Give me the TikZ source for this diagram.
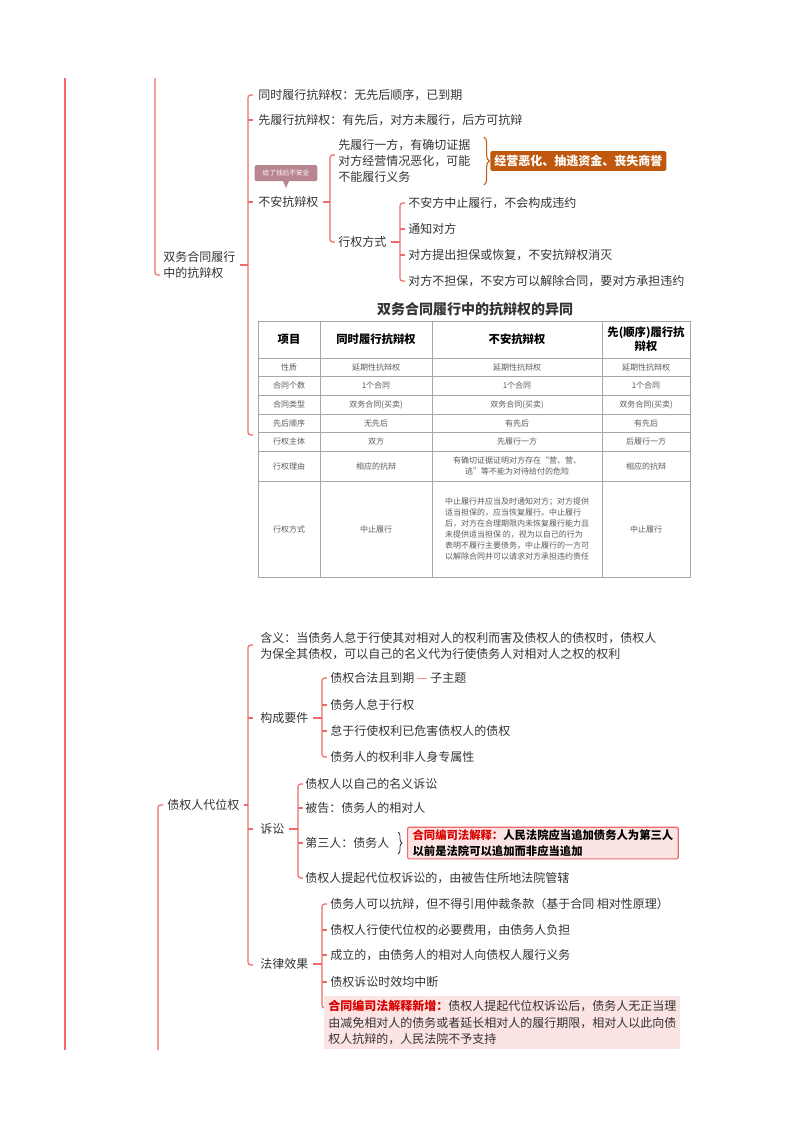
\documentclass[tikz,border=0pt]{standalone}
\usepackage{fontspec}
\setmainfont{Noto Sans CJK SC}
\usetikzlibrary{shapes,calc,positioning,decorations.pathreplacing}
\definecolor{lred}{HTML}{F06A6A}
\definecolor{txt}{HTML}{333333}
\definecolor{ora}{HTML}{C0590F}
\definecolor{pinkbg}{HTML}{FCE4E4}
\definecolor{callout}{HTML}{B98591}
\tikzstyle{item} = [anchor=west, inner sep=0pt, text=txt, font=\fontsize{9}{12}\selectfont, align=left]
\tikzstyle{br} = [draw=lred, line width=0.9pt, rounded corners=2pt]
\tikzstyle{cell} = [text=txt!80, font=\fontsize{6}{8.2}\selectfont, align=center, inner sep=0pt]
\tikzstyle{head} = [text=black, font=\bfseries\fontsize{8.5}{10.5}\selectfont, align=center, inner sep=0pt]
\newcommand{\brk}[3]{\draw[br] (#1+5,#2) -- (#1,#2) -- (#1,#3) -- (#1+5,#3);}
\newcommand{\tick}[2]{\draw[br] (#1,#2) -- (#1+5,#2);}

\begin{document}
\begin{tikzpicture}[x=0.75pt, y=-0.75pt]
        \useasboundingbox (0,0) rectangle (800,1132);
        % main spines
        \draw[lred, line width=1.2pt] (65,78) -- (65,1050);
        \draw[br] (155,78) -- (155,275) -- (160,275);
        \draw[br] (163,805) -- (158,805) -- (158,1050);
        % part one
        \node[item] (sw) at (163,265) {双务合同履行\\中的抗辩权};
        \brk{248}{95}{435}
        \draw[br] ([xshift=3pt]sw.east) -- (248,265);
        \node[item] (tong) at (258,95) {同时履行抗辩权：无先后顺序，已到期};
        \node[item] (xian) at (258,120) {先履行抗辩权：有先后，对方未履行，后方可抗辩};
        \node[item] (buan) at (258,202) {不安抗辩权};
        \tick{248}{120} \tick{248}{202}
        \node[fill=callout, text=white, rounded corners=1pt, font=\fontsize{5}{6}\selectfont, minimum width=47pt, minimum height=12pt, inner sep=1pt] (tip) at (286,173) {给了钱后不安全};
        \fill[callout] (283,181) -- (289,181) -- (286,188) -- cycle;
        \brk{330}{155}{242}
        \draw[br] ([xshift=3pt]buan.east) -- (330,202);
        \node[item] (zheng) at (338,161) {先履行一方，有确切证据\\对方经营情况恶化，可能\\不能履行义务};
        \node[item] (fang) at (338,242) {行权方式};
        \draw[decorate, decoration={brace, amplitude=4pt}, draw=ora, line width=0.8pt] (484,137) -- (484,185);
        \node[fill=ora, text=white, font=\bfseries\fontsize{9}{11}\selectfont, rounded corners=1pt, inner sep=3pt, anchor=west] (jy) at (490,161) {经营恶化、抽逃资金、丧失商誉};
        \brk{400}{203}{281}
        \draw[br] ([xshift=3pt]fang.east) -- (400,242);
        \node[item] (f1) at (408,203) {不安方中止履行，不会构成违约};
        \node[item] (f2) at (408,229) {通知对方};
        \node[item] (f3) at (408,255) {对方提出担保或恢复，不安抗辩权消灭};
        \node[item] (f4) at (408,281) {对方不担保，不安方可以解除合同，要对方承担违约};
        \tick{400}{229} \tick{400}{255}
        % table
        \node[font=\bfseries\fontsize{10.5}{12}\selectfont, text=txt] (ttl) at (475,309) {双务合同履行中的抗辩权的异同};
        \fill[white] (256,320) rectangle (692,578);
        \draw[gray!70, line width=0.5pt] (258,321) rectangle (690,577);
        \foreach \x in {320,432,602} \draw[gray!70, line width=0.5pt] (\x,321) -- (\x,577);
        \foreach \y in {358,376,395,414,432,451,481} \draw[gray!70, line width=0.5pt] (258,\y) -- (690,\y);
        \node[head] at (289,339) {项目};
        \node[head] at (376,339) {同时履行抗辩权};
        \node[head] at (517,339) {不安抗辩权};
        \node[head] at (646,339) {先(顺序)履行抗\\辩权};
        \foreach \r/\y/\a/\b/\c/\d in {0/367/性质/延期性抗辩权/延期性抗辩权/延期性抗辩权,
            1/385.5/合同个数/1个合同/1个合同/1个合同,
            2/404.5/合同类型/双务合同(买卖)/双务合同(买卖)/双务合同(买卖),
            3/423/先后顺序/无先后/有先后/有先后,
            4/441.5/行权主体/双方/先履行一方/后履行一方} {
            \node[cell] at (289,\y) {\a};
            \node[cell] at (376,\y) {\b};
            \node[cell] at (517,\y) {\c};
            \node[cell] at (646,\y) {\d};
        }
        \node[cell] at (289,466) {行权理由};
        \node[cell] at (376,466) {相应的抗辩};
        \node[cell] at (517,466) {有确切证据证明对方存在“营、营、\\逃”等不能为对待给付的危险};
        \node[cell] at (646,466) {相应的抗辩};
        \node[cell] at (289,529) {行权方式};
        \node[cell] at (376,529) {中止履行};
        \node[cell, align=left] at (517,529) {中止履行并应当及时通知对方；对方提供\\适当担保的，应当恢复履行。中止履行\\后，对方在合理期限内未恢复履行能力且\\未提供适当担保 的，视为以自己的行为\\表明不履行主要债务，中止履行的一方可\\以解除合同并可以请求对方承担违约责任};
        \node[cell] at (646,529) {中止履行};
        % part two
        \node[item] (dw) at (167,805) {债权人代位权};
        \brk{248}{645}{965}
        \draw[br] ([xshift=3pt]dw.east) -- (248,805);
        \node[item] (hy) at (260,646) {含义：当债务人怠于行使其对相对人的权利而害及债权人的债权时，债权人\\为保全其债权，可以自己的名义代为行使债务人对相对人之权的权利};
        \node[item] (gc) at (260,718) {构成要件};
        \node[item] (ss) at (260,829) {诉讼};
        \node[item] (fl) at (260,964) {法律效果};
        \tick{248}{718} \tick{248}{829}
        \brk{322}{678}{757}
        \draw[br] ([xshift=3pt]gc.east) -- (322,718);
        \node[item] (g1) at (330,678) {债权合法且到期 \textcolor{lred}{—} 子主题};
        \node[item] (g2) at (330,705) {债务人怠于行权};
        \node[item] (g3) at (330,731) {怠于行使权利已危害债权人的债权};
        \node[item] (g4) at (330,757) {债务人的权利非人身专属性};
        \tick{322}{705} \tick{322}{731}
        \brk{298}{784}{878}
        \draw[br] ([xshift=3pt]ss.east) -- (298,829);
        \node[item] (s1) at (305,784) {债权人以自己的名义诉讼};
        \node[item] (s2) at (305,808) {被告：债务人的相对人};
        \node[item] (s3) at (305,843) {第三人：债务人};
        \node[item] (s4) at (305,878) {债权人提起代位权诉讼的，由被告住所地法院管辖};
        \tick{298}{808} \tick{298}{843}
        \draw[decorate, decoration={brace, amplitude=3pt}, draw=txt, line width=0.6pt] (398,832) -- (398,854);
        \node[draw=lred, fill=pinkbg, line width=0.9pt, rounded corners=1pt, anchor=west, align=left, inner sep=2pt, minimum width=203pt, font=\bfseries\fontsize{8.5}{11.5}\selectfont] (sf) at (407,843) {\textcolor{red!85!black}{合同编司法解释：}人民法院应当追加债务人为第三人\\以前是法院可以追加而非应当追加};
        \brk{322}{904}{1008}
        \draw[br] ([xshift=3pt]fl.east) -- (322,964);
        \node[item] (l1) at (330,904) {债务人可以抗辩，但不得引用仲裁条款（基于合同 相对性原理）};
        \node[item] (l2) at (330,930) {债权人行使代位权的必要费用，由债务人负担};
        \node[item] (l3) at (330,955) {成立的，由债务人的相对人向债权人履行义务};
        \node[item] (l4) at (330,982) {债权诉讼时效均中断};
        \tick{322}{930} \tick{322}{955} \tick{322}{982}
        \node[fill=pinkbg, anchor=north west, align=left, inner sep=3pt, text=txt, font=\fontsize{9}{12.5}\selectfont] (xz) at (324,996) {\textbf{\textcolor{red!85!black}{合同编司法解释新增：}}债权人提起代位权诉讼后，债务人无正当理\\由减免相对人的债务或者延长相对人的履行期限，相对人以此向债\\权人抗辩的，人民法院不予支持};
\end{tikzpicture}
\end{document}
